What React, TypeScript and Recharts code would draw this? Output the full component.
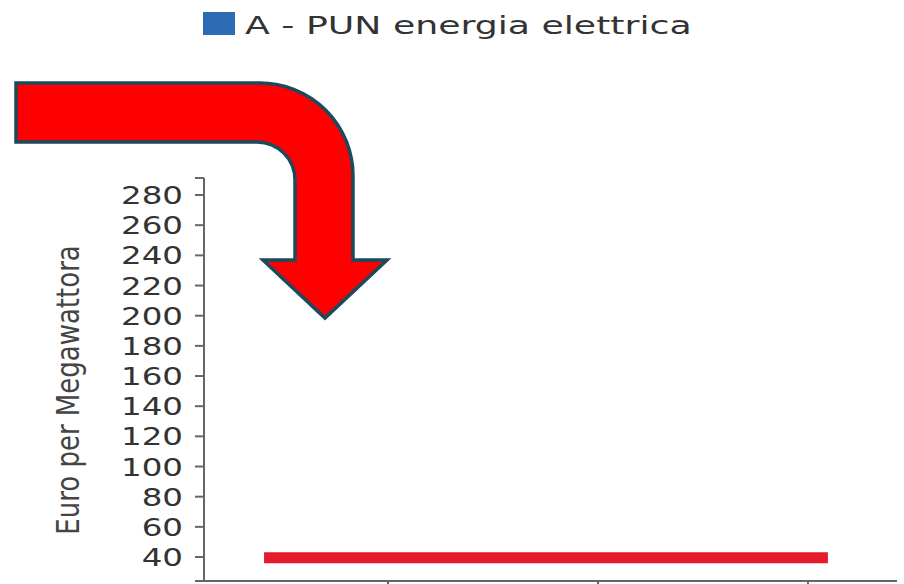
import { LineChart, Line, XAxis, YAxis, Customized } from 'recharts'

// PUN series (flat at about 39-40 €/MWh)
const positions = [0.41, 1, 1.5, 2, 2.5, 3, 3.095]
const punValues = [39.5, 39.5, 39.5, 39.5, 39.5, 39.5, 39.5]
const seriesName = 'A - PUN energia elettrica'
const yLabels = [40, 60, 80, 100, 120, 140, 160, 180, 200, 220, 240, 260, 280]
const yDomain = [24.1, 291.3]
const xTicks = [1, 2, 3]
const xDomain = [0.124, 3.424]

const data = positions.map((x, i) => ({ x, pun: punValues[i] }))
const FONT = '"DejaVu Sans", sans-serif'

function YTick({ x, y, payload }: any) {
  if (!yLabels.includes(payload.value)) return <g />
  return (
    <g transform={`translate(${x},${y}) scale(1.3,1)`}>
      <text x={0} y={0} dy="0.36em" textAnchor="end" fontSize={25} fill="#333" fontFamily={FONT}>
        {payload.value}
      </text>
    </g>
  )
}

function Overlay() {
  return (
    <g>
      {/* legend */}
      <rect x={203} y={12} width={32} height={23} fill="#2d6cb5" />
      <g transform="translate(245,34) scale(1.45,1)">
        <text x={0} y={0} fontSize={25} fill="#333" fontFamily={FONT}>
          {seriesName}
        </text>
      </g>
      {/* y axis title */}
      <g transform="translate(68,390) scale(1.2,1) rotate(-90)">
        <text x={0} y={0} dy="0.36em" textAnchor="middle" fontSize={26} fill="#444" fontFamily={FONT}>
          Euro per Megawattora
        </text>
      </g>
      {/* bent red arrow */}
      <path
        d="M16,83 L260,83 A93,93 0 0 1 353,176 L353,260 L387,260 L325,318 L263,260 L295,260 L295,180 A38,38 0 0 0 257,142 L16,142 Z"
        fill="#ff0000"
        stroke="#1b4a5e"
        strokeWidth={3.5}
        strokeLinejoin="miter"
      />
    </g>
  )
}

export default function App() {
  return (
    <div style={{ position: 'absolute', left: 0, top: 0, background: '#fff' }}>
      <LineChart width={904} height={584} data={data} margin={{ top: 178, right: 7, bottom: 0, left: 0 }}>
        <XAxis
          dataKey="x"
          type="number"
          domain={xDomain}
          ticks={xTicks}
          allowDataOverflow
          height={3}
          tick={() => <g />}
          tickSize={6}
          stroke="#666"
          strokeWidth={2}
        />
        <YAxis
          type="number"
          domain={yDomain}
          ticks={[yDomain[0], ...yLabels, yDomain[1]]}
          allowDataOverflow
          width={204}
          tick={YTick}
          tickSize={9}
          tickMargin={12}
          stroke="#666"
          strokeWidth={2}
          interval={0}
        />
        <Line
          type="linear"
          dataKey="pun"
          name={seriesName}
          stroke="#e31b2b"
          strokeWidth={11}
          dot={false}
          isAnimationActive={false}
        />
        <Customized component={Overlay} />
      </LineChart>
    </div>
  )
}
